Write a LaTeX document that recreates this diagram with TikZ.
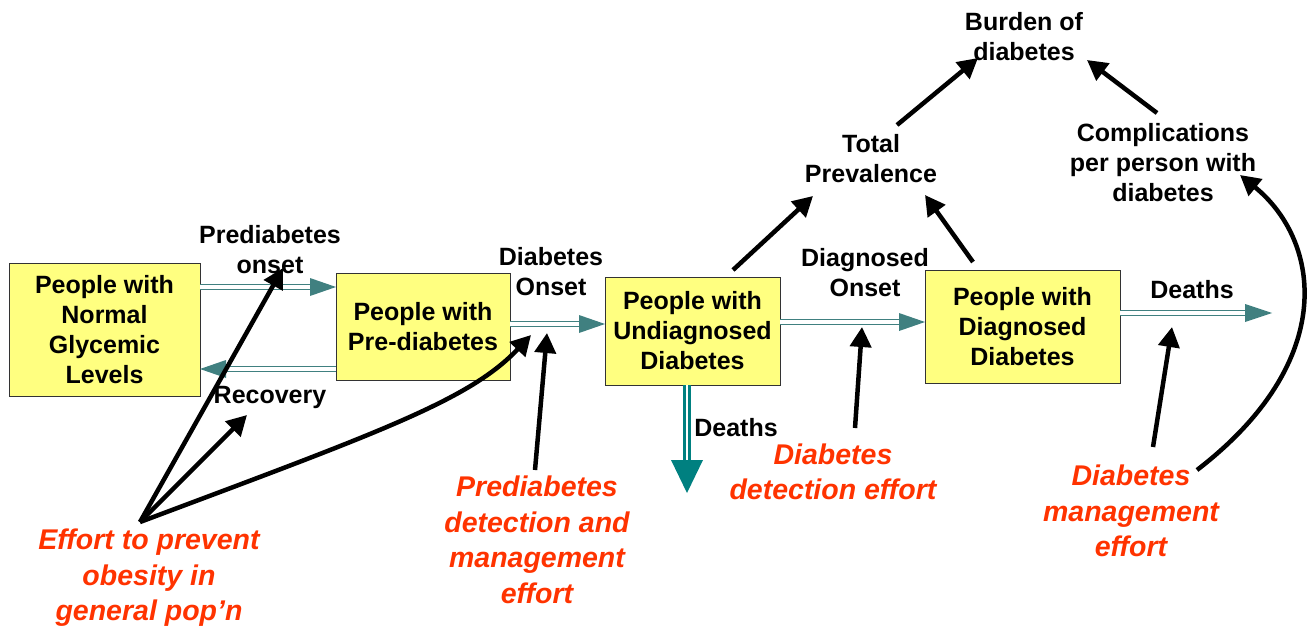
\documentclass[tikz,border=0pt]{standalone}
\usepackage{fontspec}
\setmainfont{Liberation Sans}
\usetikzlibrary{arrows.meta}
\definecolor{boxfill}{RGB}{255,255,128}
\definecolor{flowc}{RGB}{64,128,128}
\definecolor{deathc}{RGB}{0,128,128}
\definecolor{effortc}{RGB}{255,51,0}
\begin{document}
\begin{tikzpicture}[x=1pt,y=-1pt,
  stock/.style={draw=black!80, line width=0.8pt, fill=boxfill, minimum width=#1, align=center, inner sep=0pt,
    font=\fontsize{25}{30}\selectfont\bfseries},
  lbl/.style={align=center, inner sep=0pt, font=\fontsize{25}{30}\selectfont\bfseries},
  effort/.style={align=center, inner sep=0pt, text=effortc, font=\fontsize{28.5}{35.5}\selectfont\bfseries\itshape},
  flowshaft/.style={draw=flowc, double=white, double distance=3.5pt, line width=1.3pt},
  deathshaft/.style={draw=deathc, double=white, double distance=2pt, line width=3pt},
  cause/.style={draw=black, line width=4.5pt, -{Triangle[length=20pt,width=21pt]}},
]
\useasboundingbox (0,0) rectangle (1316,632);

% stocks
\node[stock=191pt, minimum height=133pt] (normal) at (104.5,329.5) {People with\\Normal\\Glycemic\\Levels};
\node[stock=174pt, minimum height=107pt] (pre) at (423,326.5) {People with\\Pre-diabetes};
\node[stock=175pt, minimum height=108pt] (undiag) at (692.5,331) {People with\\Undiagnosed\\Diabetes};
\node[stock=195pt, minimum height=113pt] (diag) at (1022.5,326.5) {People with\\Diagnosed\\Diabetes};

% labels
\node[lbl] (burden) at (1024,37) {Burden of\\diabetes};
\node[lbl] (total) at (871,159) {Total\\Prevalence};
\node[lbl] (compl) at (1163,163) {Complications\\per person with\\diabetes};
\node[lbl] (preon) at (270,250) {Prediabetes\\onset};
\node[lbl] (recov) at (270,397) {Recovery};
\node[lbl] (diabon) at (551,272) {Diabetes\\Onset};
\node[lbl] (diagon) at (865,273) {Diagnosed\\Onset};
\node[lbl] (deathr) at (1192,290) {Deaths};
\node[lbl] (deathd) at (736,428) {Deaths};

% effort labels
\node[effort] (eobes) at (149,578) {Effort to prevent\\obesity in\\general pop’n};
\node[effort] (epre) at (537,540) {Prediabetes\\detection and\\management\\effort};
\node[effort] (edet) at (833,472) {Diabetes\\detection effort};
\node[effort] (eman) at (1131,511) {Diabetes\\management\\effort};

% flow coordinates
\coordinate (f1a) at (200,287); \coordinate (f1b) at (336,287);
\coordinate (f2a) at (336,369); \coordinate (f2b) at (200,369);
\coordinate (f3a) at (510,324); \coordinate (f3b) at (605,324);
\coordinate (f4a) at (780,322); \coordinate (f4b) at (925,322);
\coordinate (f5a) at (1120,313); \coordinate (f5b) at (1272,313);
\coordinate (f6a) at (687,385); \coordinate (f6b) at (687,493);

% flows (shafts + heads)
\draw[flowshaft] (f1a) -- ([xshift=-24pt]f1b);
\fill[flowc] (f1b) -- ++(-26,-9) -- ++(0,18) -- cycle;
\draw[flowshaft] (f2a) -- ([xshift=24pt]f2b);
\fill[flowc] (f2b) -- ++(26,-9) -- ++(0,18) -- cycle;
\draw[flowshaft] (f3a) -- ([xshift=-24pt]f3b);
\fill[flowc] (f3b) -- ++(-26,-9) -- ++(0,18) -- cycle;
\draw[flowshaft] (f4a) -- ([xshift=-24pt]f4b);
\fill[flowc] (f4b) -- ++(-26,-9) -- ++(0,18) -- cycle;
\draw[flowshaft] (f5a) -- ([xshift=-25pt]f5b);
\fill[flowc] (f5b) -- ++(-27,-9) -- ++(0,18) -- cycle;
\draw[deathshaft] (f6a) -- ([yshift=31pt]f6b);
\fill[deathc] (f6b) -- ++(-16,-33) -- ++(32,0) -- cycle;

% causal arrows
\coordinate (o1) at (140,522);
\coordinate (t1) at (283,268);
\coordinate (t2) at (247,415);
\coordinate (t3) at (531,335);
\draw[cause] (o1) -- (t1);
\draw[cause] (o1) -- (t2);
\draw[cause] (o1) .. controls (380,432) and (470,400) .. (t3);

\coordinate (p1) at (535,470); \coordinate (p2) at (547,333);
\draw[cause] (p1) -- (p2);
\coordinate (d1) at (855,428); \coordinate (d2) at (862,327);
\draw[cause] (d1) -- (d2);
\coordinate (m1) at (1153,447); \coordinate (m2) at (1172,327);
\draw[cause] (m1) -- (m2);
\coordinate (m3) at (1197,470); \coordinate (m4) at (1240,175);
\draw[cause] (m3) .. controls (1340,360) and (1320,240) .. (m4);

\coordinate (u1) at (733,270); \coordinate (u2) at (813,196);
\draw[cause] (u1) -- (u2);
\coordinate (g1) at (973,262); \coordinate (g2) at (925,195);
\draw[cause] (g1) -- (g2);
\coordinate (tp1) at (897,125); \coordinate (tp2) at (978,58);
\draw[cause] (tp1) -- (tp2);
\coordinate (c1) at (1157,113); \coordinate (c2) at (1087,60);
\draw[cause] (c1) -- (c2);
\end{tikzpicture}
\end{document}
